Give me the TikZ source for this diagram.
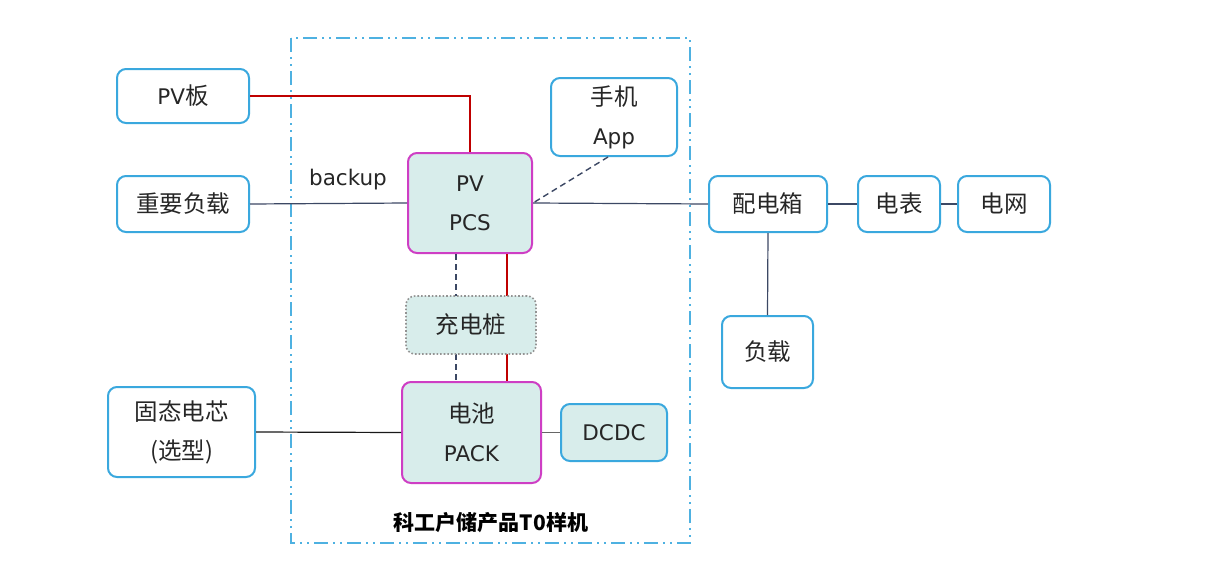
\documentclass[tikz,border=0pt]{standalone}
\usepackage{fontspec}
\setmainfont{DejaVu Sans}
\newfontfamily\cjk{Noto Sans CJK SC}
\definecolor{bb}{RGB}{58,168,222}
\definecolor{mg}{RGB}{206,62,196}
\definecolor{tf}{RGB}{216,237,235}
\definecolor{dl}{RGB}{60,72,100}
\newcommand{\zh}[1]{{\cjk\fontsize{23.5}{39}\selectfont #1}}
\begin{document}
\begin{tikzpicture}[x=1pt,y=-1pt,
  every node/.style={font=\fontsize{21.5}{39}\selectfont, text=black!85, align=center, inner sep=0pt},
  bluebox/.style={draw=bb, line width=2pt, rounded corners=9pt, fill=white},
  tealbox/.style={draw=bb, line width=2pt, rounded corners=9pt, fill=tf},
  magbox/.style={draw=mg, line width=2pt, rounded corners=9pt, fill=tf},
  dotbox/.style={draw=gray!85, line width=1.6pt, dotted, rounded corners=9pt, fill=tf},
  redline/.style={draw=red!75!black, line width=1.2pt},
  darkline/.style={draw=dl, line width=1.2pt},
  blackline/.style={draw=black!90, line width=1.2pt},
  grayline/.style={draw=black!60, line width=1.2pt},
  dashline/.style={draw=dl, line width=1.4pt, dash pattern=on 6pt off 4pt}
]
\useasboundingbox (0,0) rectangle (1218,565);
\fill[white] (0,0) rectangle (1218,565);
% dashed frame
\draw[bb!90!white, line width=2pt, dash pattern=on 14pt off 5pt on 2pt off 5pt on 2pt off 5pt] (291,38) rectangle (690,543);
\node[font=\cjk\bfseries\fontsize{21}{24}\selectfont, text=black] (title) at (491,523) {科工户储产品T0样机};

% nodes
\node[bluebox, minimum width=132pt, minimum height=54pt] (pv) at (183,96) {PV\zh{板}};
\node[bluebox, minimum width=132pt, minimum height=56pt] (load1) at (183,204) {\zh{重要负载}};
\node[bluebox, minimum width=147pt, minimum height=90pt] (cell) at (181.5,432) {\zh{固态电芯}\\\zh{(选型)}};
\node[bluebox, minimum width=126pt, minimum height=78pt] (app) at (614,117) {\zh{手机}\\App};
\node[magbox, minimum width=124pt, minimum height=100pt] (pcs) at (470,203) {PV\\PCS};
\node[magbox, minimum width=139pt, minimum height=101pt] (pack) at (471.5,432.5) {\zh{电池}\\PACK};
\node[tealbox, minimum width=106pt, minimum height=57pt] (dcdc) at (614,432.5) {DCDC};
\node[bluebox, minimum width=118pt, minimum height=56pt] (box) at (768,204) {\zh{配电箱}};
\node[bluebox, minimum width=82pt, minimum height=56pt] (meter) at (899,204) {\zh{电表}};
\node[bluebox, minimum width=92pt, minimum height=56pt] (grid) at (1004,204) {\zh{电网}};
\node[bluebox, minimum width=91pt, minimum height=72pt] (load2) at (767.5,352) {\zh{负载}};
\node (backup) at (348,180) {backup};

% connectors (behind charger)
\coordinate (pvc) at (470,96);
\draw[redline] (pv.east) -- (pvc) -- (pcs.north);
\draw[darkline] (load1.east) -- (pcs.west);
\draw[darkline] (pcs.east) -- (box.west);
\draw[dashline] (app.south) ++(-6pt,0) coordinate (appb) (appb) -- (pcs.east);
\draw[dashline] (pcs.south -| 456,0) -- (pack.north -| 456,0);
\draw[redline] (pcs.south -| 507,0) -- (pack.north -| 507,0);
\draw[blackline] (cell.east) -- (pack.west);
\draw[grayline] (pack.east) -- (dcdc.west);
\draw[darkline] (box.east) -- (meter.west);
\draw[darkline] (meter.east) -- (grid.west);
\draw[darkline] (box.south) -- (load2.north);

\node[dotbox, minimum width=130pt, minimum height=58pt] (charger) at (471,325) {\zh{充电桩}};
\end{tikzpicture}
\end{document}
